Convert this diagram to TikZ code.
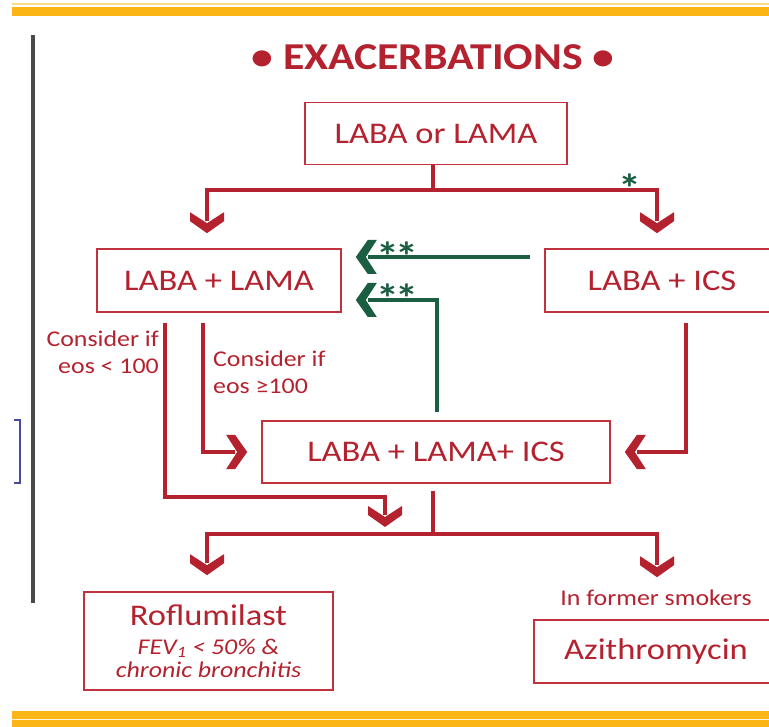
\documentclass[tikz,border=0pt]{standalone}
\usepackage{fontspec}
\setmainfont{Carlito}[FakeStretch=1.15]
\usetikzlibrary{calc}
\definecolor{tred}{HTML}{B3222E}
\definecolor{boxred}{HTML}{C0323D}
\definecolor{lred}{HTML}{B3222E}
\definecolor{dgreen}{HTML}{1B5E42}
\definecolor{gold}{HTML}{FBB616}
\definecolor{lgold}{HTML}{FDD98A}
\definecolor{dgray}{HTML}{4A4A4A}
\definecolor{bblue}{HTML}{4A4A9A}
\pgfdeclarearrow{
  name = Chev,
  parameters = {},
  setup code = {
    \pgfarrowssettipend{0pt}
    \pgfarrowssetlineend{-12pt}
    \pgfarrowssetvisualbackend{-21pt}
    \pgfarrowssetbackend{-21pt}
    \pgfarrowshullpoint{0pt}{0pt}
    \pgfarrowshullpoint{-21pt}{17pt}
    \pgfarrowshullpoint{-21pt}{-17pt}
  },
  drawing code = {
    \pgfpathmoveto{\pgfpoint{0pt}{0pt}}
    \pgfpathlineto{\pgfpoint{-12pt}{17pt}}
    \pgfpathlineto{\pgfpoint{-21pt}{17pt}}
    \pgfpathlineto{\pgfpoint{-10pt}{0pt}}
    \pgfpathlineto{\pgfpoint{-21pt}{-17pt}}
    \pgfpathlineto{\pgfpoint{-12pt}{-17pt}}
    \pgfpathclose
    \pgfusepathqfill
  }
}
\begin{document}
\begin{tikzpicture}[x=1pt,y=-1pt,
  box/.style={draw=boxred, line width=1.6pt, fill=white, inner sep=0pt, text=tred,
    font=\fontsize{30}{34}\selectfont, align=center},
  rline/.style={color=lred, line width=4.2pt},
  gline/.style={color=dgreen, line width=4.2pt},
  small/.style={text=tred, font=\fontsize{22.5}{27}\selectfont, inner sep=0pt},
  star/.style={text=dgreen, font=\fontsize{40}{40}\bfseries\selectfont, inner sep=0pt, anchor=base}
]
\useasboundingbox (0,0) rectangle (769,727);
% gold bars
\fill[lgold] (12,3.5) rectangle (769,5);
\fill[gold] (12,7) rectangle (769,16.5);
\fill[gold] (12,711) rectangle (769,727);
\fill[white!85!gold] (12,718.5) rectangle (769,720);
% left marks
\draw[dgray, line width=3.5pt] (33,35) -- (33,603);
\draw[bblue, line width=1.6pt] (14,420) -- (20,420) -- (20,483) -- (14,483);
% title
\node[text=tred, font=\fontsize{38}{38}\bfseries\selectfont, inner sep=0pt] (title) at (433,57) {\textbullet\ EXACERBATIONS \textbullet};
% boxes
\node[box, minimum width=262pt, minimum height=62pt] (top) at (436,133.5) {LABA or LAMA};
\node[box, minimum width=244pt, minimum height=63pt] (l1) at (219,280.5) {LABA + LAMA};
\node[box, minimum width=234pt, minimum height=63pt] (r1) at (662,280.5) {LABA + ICS};
\node[box, minimum width=348pt, minimum height=62pt] (mid) at (436,452) {LABA + LAMA+ ICS};
\node[box, minimum width=249pt, minimum height=98pt] (rof) at (208.5,641) {Roflumilast\\[-5pt]{\fontsize{22.5}{19}\itshape\selectfont FEV\textsubscript{1} < 50\% \&}\\[-11pt]{\fontsize{22.5}{19}\itshape\selectfont chronic bronchitis}};
\node[box, minimum width=244pt, minimum height=63pt] (azi) at (656,651.5) {Azithromycin};
% labels
\node[small, anchor=north east, align=right] (c1) at (159,331) {Consider if\\eos < 100};
\node[small, anchor=north west, align=left] (c2) at (213,351) {Consider if\\eos ≥100};
\node[small] (fs) at (656,598) {In former smokers};
\node[star] (s1) at (630,203) {*};
\node[star] (s2) at (397,271) {*\kern-4pt*};
\node[star] (s3) at (397,313) {*\kern-4pt*};
% coordinates
\coordinate (j1) at ($(top.south)+(-3,25)$);
\coordinate (j2) at ($(mid.south)+(-3,50)$);
\coordinate (k1) at ($(l1.south)+(-54,10)$);
\coordinate (k2) at ($(l1.south)+(-16,10)$);
\coordinate (k3) at ($(r1.south)+(24,10)$);
\coordinate (k1e) at (385,527);
% red connectors
\draw[rline] ($(top.south)+(-3,0)$) -- (j1);
\draw[rline,-Chev] (j1) -| ($(l1.north)+(-12,-15)$);
\draw[rline,-Chev] (j1) -| ($(r1.north)+(-5,-15)$);
\draw[rline,-Chev] (k1) |- (385,497) -- (k1e);
\draw[rline,-Chev] (k2) |- ($(mid.west)+(-14,0)$);
\draw[rline,-Chev] (k3) |- ($(mid.east)+(14,0)$);
\draw[rline] ($(mid.south)+(-3,7)$) -- (j2);
\draw[rline,-Chev] (j2) -| ($(rof.north)+(-1.5,-16)$);
\draw[rline,-Chev] (j2) -| ($(azi.north)+(1,-42)$);
% green connectors
\draw[gline,-Chev] ($(r1.west)+(-14,-23.5)$) -- ($(l1.east)+(14,-23.5)$);
\draw[gline,-Chev] ($(mid.north)+(1,-8)$) |- ($(l1.east)+(14,19.5)$);
\end{tikzpicture}
\end{document}
